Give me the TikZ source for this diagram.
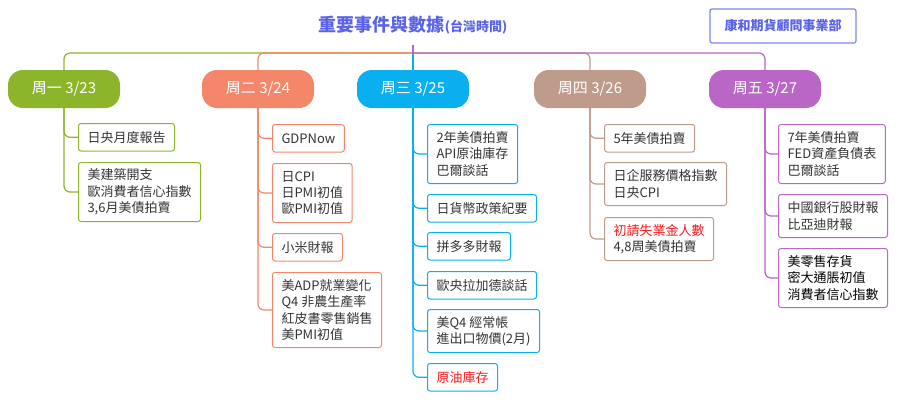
\documentclass[tikz,border=0pt]{standalone}
\usepackage{fontspec}
\setmainfont{Noto Sans CJK TC}
\usepackage{tikz}
\definecolor{mon}{HTML}{8DB52B}
\definecolor{tue}{HTML}{F4876A}
\definecolor{wed}{HTML}{0AAFEF}
\definecolor{thu}{HTML}{BF9B8C}
\definecolor{fri}{HTML}{B966C6}
\definecolor{ttl}{HTML}{5A63E8}
\definecolor{ttlbox}{HTML}{7E86F0}
\definecolor{txt}{HTML}{333333}
\definecolor{hot}{HTML}{FF1A1A}

\begin{document}
\begin{tikzpicture}[x=1pt,y=-1pt,
  day/.style={fill=#1,text=white,rounded corners=15pt,minimum width=112pt,minimum height=38pt,inner sep=0pt,font=\fontsize{15}{18}\selectfont},
  kid/.style={draw=#1,line width=1pt,rounded corners=2.5pt,anchor=north west,align=left,inner xsep=9pt,inner ysep=0pt,text=txt,font=\fontsize{13}{16.3}\selectfont},
  one/.style={minimum height=27.5pt},
  two/.style={minimum height=43pt},
  three/.style={minimum height=59pt},
  four/.style={minimum height=75pt},
  link/.style={draw=#1,line width=1.2pt,rounded corners=6pt}]
  \useasboundingbox (0,0) rectangle (900,402);
  \node[text=ttl] (title) at (413,25) {\fontsize{18}{20}\selectfont\bfseries 重要事件與數據\fontsize{13}{14}\selectfont(台灣時間)};
  \node[draw=ttlbox,line width=1.2pt,rounded corners=2pt,text=ttl,minimum width=146pt,minimum height=34pt,font=\fontsize{13}{16}\selectfont\bfseries] (firm) at (783,26) {康和期貨顧問事業部};
  \coordinate (hub) at (413,45);
  \coordinate (root) at (413,53);
  \foreach \n/\x/\c/\t in {d1/64/mon/{周一 3/23},d2/258/tue/{周二 3/24},d3/413/wed/{周三 3/25},d4/590/thu/{周四 3/26},d5/765/fri/{周五 3/27}}
  	{\node[day=\c] (\n) at (\x,89) {\t};}
  \draw[link=mon] (root) -| (d1.north);
  \draw[link=tue] (root) -| (d2.north);
  \draw[link=thu] (root) -| (d4.north);
  \draw[link=fri] (root) -| (d5.north);
  \draw[link=fri] (hub) -- (root);
  \draw[link=wed] (root) -- (d3.north);

  \node[kid=mon,one] (d1a) at (78,123) {日央月度報告};
  \node[kid=mon,three] (d1b) at (78,162) {美建築開支\\歐消費者信心指數\\3,6月美債拍賣};

  \node[kid=tue,one] (d2a) at (272,124) {GDPNow};
  \node[kid=tue,three] (d2b) at (272,163) {日CPI\\日PMI初值\\歐PMI初值};
  \node[kid=tue,one] (d2c) at (272,233) {小米財報};
  \node[kid=tue,four] (d2d) at (272,272) {美ADP就業變化\\Q4 非農生產率\\紅皮書零售銷售\\美PMI初值};

  \node[kid=wed,three] (d3a) at (427,124) {2年美債拍賣\\API原油庫存\\巴爾談話};
  \node[kid=wed,one] (d3b) at (427,194) {日貨幣政策紀要};
  \node[kid=wed,one] (d3c) at (427,232) {拼多多財報};
  \node[kid=wed,one] (d3d) at (427,271) {歐央拉加德談話};
  \node[kid=wed,two] (d3e) at (427,309) {美Q4 經常帳\\進出口物價(2月)};
  \node[kid=wed,one,text=hot] (d3f) at (427,363) {原油庫存};

  \node[kid=thu,one] (d4a) at (604,124) {5年美債拍賣};
  \node[kid=thu,two] (d4b) at (604,162) {日企服務價格指數\\日央CPI};
  \node[kid=thu,two] (d4c) at (604,217) {\textcolor{hot}{初請失業金人數}\\4,8周美債拍賣};

  \node[kid=fri,three] (d5a) at (778,124) {7年美債拍賣\\FED資產負債表\\巴爾談話};
  \node[kid=fri,two] (d5b) at (778,194) {中國銀行股財報\\比亞迪財報};
  \node[kid=fri,three,text=black] (d5c) at (778,248) {美零售存貨\\密大通脹初值\\消費者信心指數};

  \foreach \k in {d1a,d1b}
  	{\draw[link=mon] (d1.south) |- (\k.west);}
  \foreach \k in {d2a,d2b,d2c,d2d}
  	{\draw[link=tue] (d2.south) |- (\k.west);}
  \foreach \k in {d3a,d3b,d3c,d3d,d3e,d3f}
  	{\draw[link=wed] (d3.south) |- (\k.west);}
  \foreach \k in {d4a,d4b,d4c}
  	{\draw[link=thu] (d4.south) |- (\k.west);}
  \foreach \k in {d5a,d5b,d5c}
  	{\draw[link=fri] (d5.south) |- (\k.west);}
\end{tikzpicture}
\end{document}
